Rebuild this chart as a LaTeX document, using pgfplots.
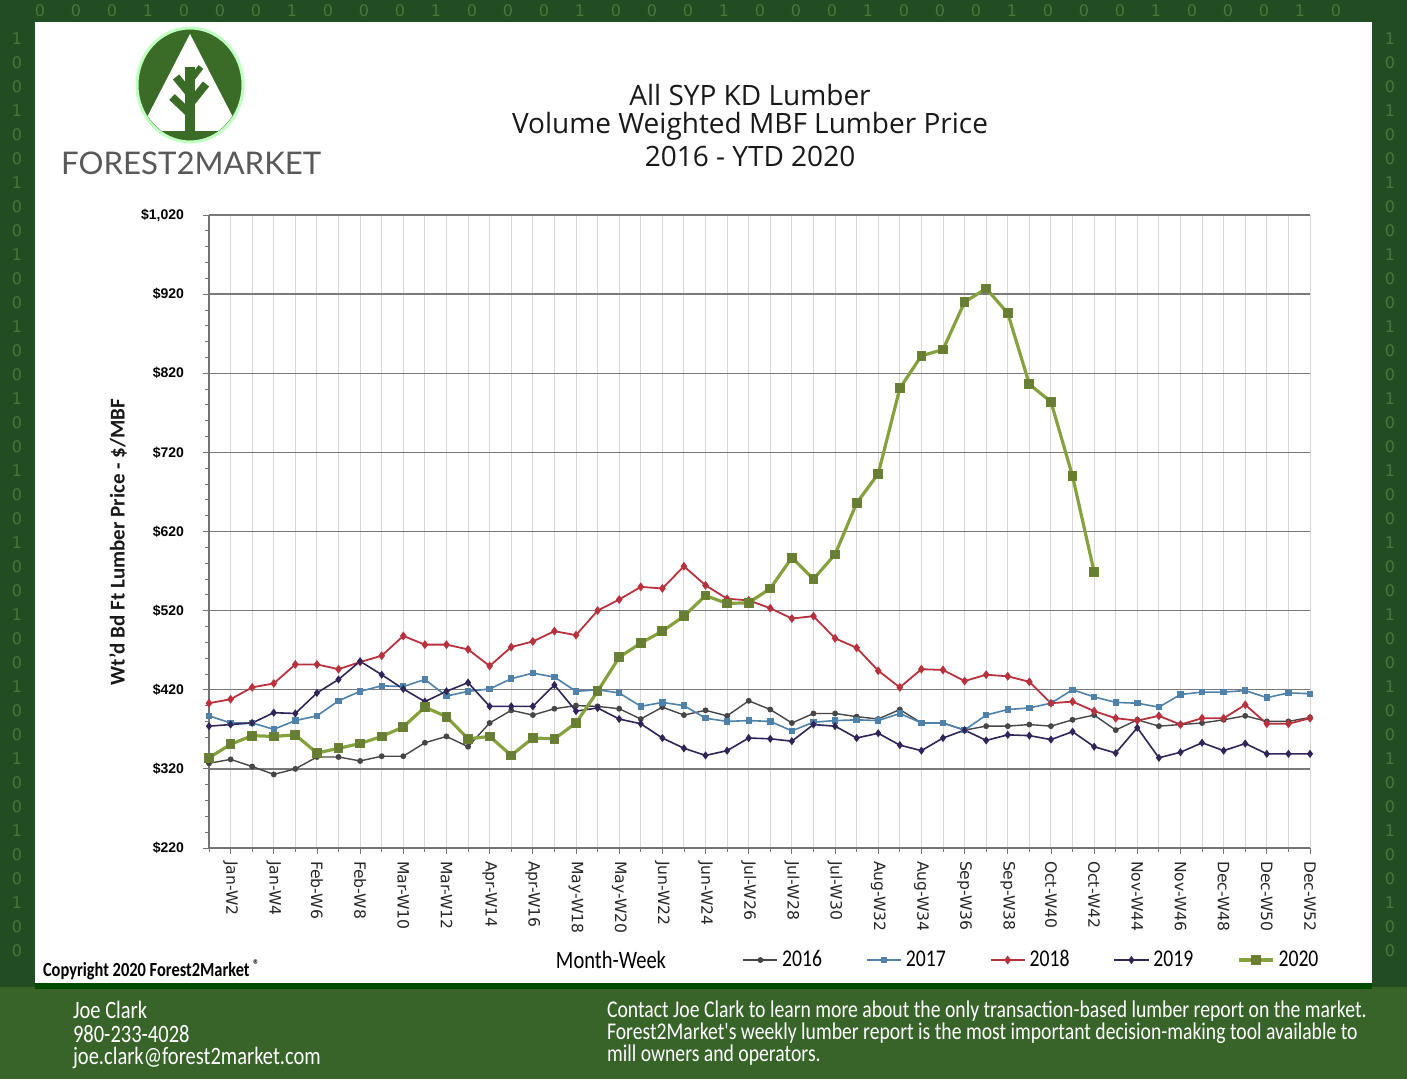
\documentclass[border=0pt]{standalone}
\usepackage{pgfplots}
\pgfplotsset{compat=1.18}
\usepackage{fontspec}
\setmainfont{Carlito}
\newfontfamily\osans{Open Sans}
\newfontfamily\dejavu{DejaVu Sans}
\newfontfamily\libsans{Liberation Sans}
\newfontfamily\lato{Lato}
\newfontfamily\cond[FakeStretch=0.82]{Carlito}

\definecolor{bgdark}{RGB}{34,76,34}
\definecolor{footgreen}{RGB}{56,100,42}
\definecolor{digit}{RGB}{70,120,60}
\definecolor{logogreen}{RGB}{58,108,40}
\definecolor{c16}{RGB}{70,70,70}
\definecolor{c17}{RGB}{79,130,170}
\definecolor{c18}{RGB}{184,50,62}
\definecolor{c19}{RGB}{48,36,88}
\definecolor{c20}{RGB}{134,162,62}
\definecolor{c20m}{RGB}{104,126,52}

\pgfplotstableread{
w v
1 327
2 332
3 323
4 313
5 320
6 335
7 335
8 330
9 336
10 336
11 353
12 361
13 348
14 378
15 394
16 388
17 396
18 400
19 399
20 396
21 383
22 398
23 388
24 394
25 387
26 406
27 395
28 378
29 390
30 390
31 386
32 383
33 395
34 378
35 378
36 369
37 374
38 374
39 376
40 374
41 382
42 388
43 369
44 382
45 374
46 376
47 378
48 382
49 387
50 380
51 380
52 385
}\tsixteen

\pgfplotstableread{
w v
1 387
2 378
3 378
4 370
5 381
6 387
7 406
8 418
9 425
10 424
11 433
12 412
13 418
14 421
15 434
16 441
17 436
18 418
19 420
20 416
21 399
22 404
23 400
24 384
25 380
26 381
27 380
28 368
29 379
30 381
31 382
32 381
33 390
34 378
35 378
36 369
37 388
38 395
39 397
40 403
41 420
42 411
43 404
44 403
45 398
46 414
47 417
48 417
49 419
50 410
51 416
52 415
}\tseventeen

\pgfplotstableread{
w v
1 403
2 408
3 423
4 428
5 452
6 452
7 446
8 455
9 463
10 488
11 477
12 477
13 471
14 450
15 474
16 481
17 494
18 489
19 520
20 534
21 550
22 548
23 576
24 552
25 535
26 533
27 523
28 510
29 513
30 485
31 473
32 444
33 423
34 446
35 445
36 431
37 439
38 437
39 430
40 403
41 405
42 393
43 384
44 381
45 387
46 376
47 384
48 384
49 401
50 377
51 377
52 384
}\teighteen

\pgfplotstableread{
w v
1 374
2 376
3 378
4 391
5 390
6 416
7 433
8 456
9 439
10 421
11 405
12 418
13 429
14 399
15 399
16 399
17 426
18 393
19 397
20 383
21 377
22 359
23 346
24 337
25 343
26 359
27 358
28 355
29 376
30 374
31 359
32 365
33 350
34 343
35 359
36 369
37 356
38 363
39 362
40 357
41 367
42 348
43 340
44 372
45 334
46 341
47 353
48 343
49 352
50 339
51 339
52 339
}\tnineteen

\pgfplotstableread{
w v
1 334
2 351
3 362
4 361
5 363
6 340
7 346
8 352
9 361
10 373
11 398
12 386
13 358
14 361
15 337
16 359
17 358
18 378
19 418
20 461
21 479
22 494
23 513
24 539
25 529
26 530
27 548
28 587
29 560
30 591
31 656
32 693
33 801
34 842
35 850
36 910
37 927
38 896
39 806
40 784
41 690
42 569
}\ttwenty

\begin{document}
\begin{tikzpicture}
\begin{scope}[x=0.5pt,y=0.5pt]
\useasboundingbox (0,0) rectangle (1407,1079);
\fill[bgdark] (0,0) rectangle (1407,1079);
\fill[footgreen] (0,0) rectangle (1407,92);
% binary digits in the border
\foreach \i [evaluate=\i as \yy using 1040-\i*24] in {0,...,38} {
  \pgfmathtruncatemacro{\d}{mod(\i*7+3,3)==0 ? 1 : 0}
  \node[text=digit, font=\dejavu\fontsize{8}{9}\selectfont] at (17,\yy) {\d};
  \node[text=digit, font=\dejavu\fontsize{8}{9}\selectfont] at (1390,\yy) {\d};
}
\foreach \i [evaluate=\i as \xx using 40+\i*36] in {0,...,36} {
  \pgfmathtruncatemacro{\d}{mod(\i*5+1,4)==0 ? 1 : 0}
  \node[text=digit, font=\dejavu\fontsize{8}{9}\selectfont] at (\xx,1068) {\d};
}
\fill[white] (35,94) rectangle (1372,1057);
\draw[black!70!green, line width=3] (35,93) -- (1372,93);
% logo
\fill[logogreen] (190,994) ellipse [x radius=53, y radius=57];
\begin{scope}
\clip (190,994) ellipse [x radius=51, y radius=55];
\fill[white] (190,1045) -- (140,948) -- (240,948) -- cycle;
\fill[logogreen] (130,948) rectangle (250,930);
\end{scope}
\draw[white!75!green, line width=1.5] (190,994) ellipse [x radius=53, y radius=57];
\draw[logogreen, line width=5] (190,948) -- (190,1012);
\draw[logogreen, line width=4] (190,985) -- (176,1002);
\draw[logogreen, line width=4] (190,975) -- (206,995);
\draw[logogreen, line width=4] (190,965) -- (172,982);
\draw[logogreen, line width=3] (190,998) -- (201,1012);
\node[anchor=base west, text=black!65, font=\lato\fontsize{15.6}{18}\selectfont] at (54,904) {FOREST2MARKET};
% title
\node[font=\osans\fontsize{14}{16}\selectfont, text=black!90] at (750,984) {All SYP KD Lumber};
\node[font=\osans\fontsize{14}{16}\selectfont, text=black!90] at (750,953) {Volume Weighted MBF Lumber Price};
\node[font=\osans\fontsize{14}{16}\selectfont, text=black!90] at (750,922) {2016 - YTD 2020};
% y label
\node[rotate=90, font=\bfseries\fontsize{10.5}{12}\selectfont, text=black!90] at (118,537) {Wt'd Bd Ft Lumber Price - \$/MBF};
% bottom texts
\node[anchor=west, font=\cond\bfseries\fontsize{10}{12}\selectfont] at (36,109) {Copyright 2020 Forest2Market \textsuperscript{\textregistered}};
\node[font=\cond\fontsize{12.5}{14}\selectfont] at (611,119) {Month-Week};
\node[anchor=west, text=white, font=\cond\fontsize{12.5}{14}\selectfont] at (66,69) {Joe Clark};
\node[anchor=west, text=white, font=\cond\fontsize{12.5}{14}\selectfont] at (66,45) {980-233-4028};
\node[anchor=west, text=white, font=\cond\fontsize{12.5}{14}\selectfont] at (66,21) {joe.clark@forest2market.com};
\node[anchor=west, text=white, font=\cond\fontsize{12}{14}\selectfont] at (600,68) {Contact Joe Clark to learn more about the only transaction-based lumber report on the market.};
\node[anchor=west, text=white, font=\cond\fontsize{12}{14}\selectfont] at (600,46) {Forest2Market's weekly lumber report is the most important decision-making tool available to};
\node[anchor=west, text=white, font=\cond\fontsize{12}{14}\selectfont] at (600,24) {mill owners and operators.};
\end{scope}

\begin{axis}[
  at={(104.5pt,115.5pt)}, anchor=south west,
  scale only axis, width=550.5pt, height=316.5pt,
  xmin=1, xmax=52, ymin=220, ymax=1020,
  axis x line*=bottom, axis y line*=left,
  axis line style={draw=black!55, line width=0.6pt},
  xtick={2,4,...,52}, minor xtick={1,3,...,51},
  xticklabels={Jan-W2,Jan-W4,Feb-W6,Feb-W8,Mar-W10,Mar-W12,Apr-W14,Apr-W16,May-W18,May-W20,Jun-W22,Jun-W24,Jul-W26,Jul-W28,Jul-W30,Aug-W32,Aug-W34,Sep-W36,Sep-W38,Oct-W40,Oct-W42,Nov-W44,Nov-W46,Dec-W48,Dec-W50,Dec-W52},
  ytick={220,320,...,1020},
  minor ytick={240,260,...,1000},
  tick align=outside,
  major tick length=3pt, minor tick length=2pt,
  every tick/.style={black!55},
  xmajorgrids, xminorgrids, ymajorgrids,
  x grid style={black!16, line width=0.5pt},
  minor grid style={black!16, line width=0.5pt},
  y grid style={black!52, line width=0.7pt},
  /pgf/number format/1000 sep={,},
  /pgf/number format/assume math mode=true,
  yticklabel={\$\pgfmathprintnumber{\tick}},
  yticklabel style={font=\libsans\bfseries\fontsize{7}{8}\selectfont, xshift=-6pt},
  xticklabel style={rotate=-90, anchor=west, font=\dejavu\fontsize{7.8}{9}\selectfont, text=black!85},
  legend style={at={(0.748,-0.177)}, anchor=center, draw=none, fill=none,
    legend columns=5, font=\cond\fontsize{12}{14}\selectfont,
    /tikz/every even column/.append style={column sep=20pt}},
  legend cell align=left,
]
\addplot[c16, line width=0.7pt, mark=*, mark size=1.1pt] table[x=w,y=v] {\tsixteen};
\addlegendentry{2016}
\addplot[c17, line width=0.8pt, mark=square*, mark size=1.2pt] table[x=w,y=v] {\tseventeen};
\addlegendentry{2017}
\addplot[c18, line width=0.9pt, mark=diamond*, mark size=1.5pt] table[x=w,y=v] {\teighteen};
\addlegendentry{2018}
\addplot[c19, line width=0.8pt, mark=diamond*, mark size=1.4pt] table[x=w,y=v] {\tnineteen};
\addlegendentry{2019}
\addplot[c20, line width=1.6pt, mark=square*, mark size=2.2pt, mark options={fill=c20m, draw=c20!80!black, line width=0.5pt}] table[x=w,y=v] {\ttwenty};
\addlegendentry{2020}
\end{axis}
\end{tikzpicture}
\end{document}
